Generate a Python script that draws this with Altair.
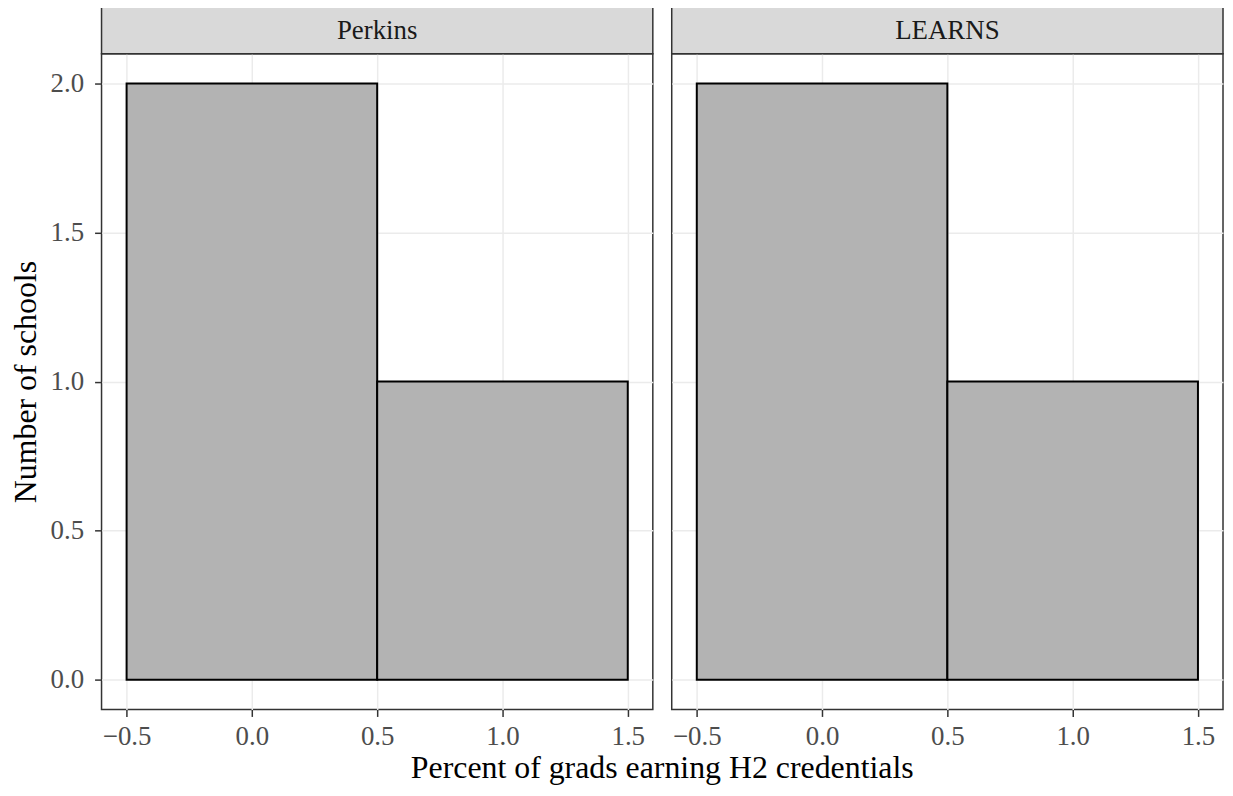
import altair as alt
import pandas as pd

facets = ["Perkins", "LEARNS"]
bin_start = [-0.5, 0.5]
bin_end = [0.5, 1.5]
counts = [2, 1]
x_ticks = [-0.5, 0.0, 0.5, 1.0, 1.5]
y_ticks = [0.0, 0.5, 1.0, 1.5, 2.0]

FONT = "Liberation Serif"
PW, PH, SH = 554, 659, 48
TICK_FS = 27
TITLE_FS = 32


def panel(name, first):
    df = pd.DataFrame({"start": bin_start, "end": bin_end, "count": counts, "facet": name})
    if first:
        yaxis = alt.Axis(values=y_ticks, format=".1f", grid=True, gridColor="#ebebeb",
                         gridWidth=1.5, domain=False, tickColor="#333333", tickWidth=1.5,
                         tickSize=7, labelFont=FONT, labelFontSize=TICK_FS, labelColor="#4d4d4d",
                         labelPadding=11, title="Number of schools",
                         titleFont=FONT, titleFontSize=TITLE_FS, titleFontWeight="normal",
                         titleColor="black", titlePadding=8)
    else:
        yaxis = alt.Axis(values=y_ticks, grid=True, gridColor="#ebebeb", gridWidth=1.5,
                         domain=False, ticks=False, labels=False, title=None)
    xaxis = alt.Axis(values=x_ticks, format=".1f", grid=True, gridColor="#ebebeb",
                     gridWidth=1.5, domain=False, tickColor="#333333", tickWidth=1.5,
                     tickSize=7, labelFont=FONT, labelFontSize=TICK_FS, labelColor="#4d4d4d",
                     labelPadding=7, title=None)
    bars = alt.Chart(df).mark_rect(fill="#b3b3b3", stroke="black", strokeWidth=2).encode(
        x=alt.X("start:Q", scale=alt.Scale(domain=[-0.6, 1.6], nice=False, zero=False), axis=xaxis),
        x2="end:Q",
        y=alt.Y("count:Q", scale=alt.Scale(domain=[-0.1, 2.1], nice=False, zero=False), axis=yaxis),
        y2=alt.datum(0),
    )
    sdf = pd.DataFrame({"facet": [name]})
    strip_bg = alt.Chart(sdf).mark_rect(fill="#d9d9d9", stroke="#333333", strokeWidth=1.5).encode(
        x=alt.value(0), x2=alt.value(PW), y=alt.value(-SH), y2=alt.value(0))
    strip_txt = alt.Chart(sdf).mark_text(
        font=FONT, fontSize=TICK_FS, color="#1a1a1a", baseline="middle", align="center"
    ).encode(text="facet:N", x=alt.value(PW / 2), y=alt.value(-SH / 2 + 1))
    return alt.layer(bars, strip_bg, strip_txt).properties(
        width=PW, height=PH,
        view=alt.ViewBackground(stroke="#333333", strokeWidth=1.5, fill="white"))


chart = alt.hconcat(panel(facets[0], True), panel(facets[1], False), spacing=15).properties(
    title=alt.TitleParams("Percent of grads earning H2 credentials", orient="bottom",
                          anchor="middle", font=FONT, fontSize=TITLE_FS, fontWeight="normal",
                          color="black", offset=3, dx=46),
    padding={"left": 0, "top": -6, "right": 0, "bottom": -1},
    background="white",
)

chart.save("out.html", embed_options={"renderer": "svg", "actions": False})
